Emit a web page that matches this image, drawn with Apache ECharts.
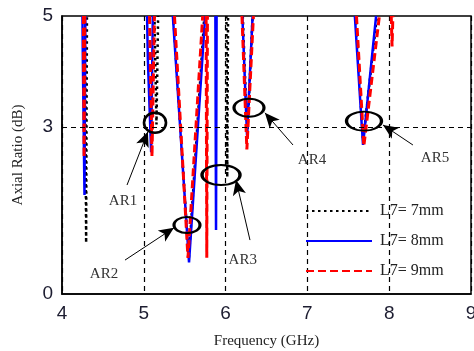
<!DOCTYPE html>
<html>
<head>
<meta charset="utf-8">
<script src="https://cdn.jsdelivr.net/npm/echarts@6/dist/echarts.min.js"></script>
<style>
html, body { margin: 0; padding: 0; background: #fff; }
#ar-chart { width: 474px; height: 351px; }
</style>
</head>
<body>
<div id="ar-chart"></div>
<script>
// each dip = [frequency (GHz), axial ratio (dB)] points
const dips7mm = [
    [[4.28, 5], [4.295, 0.92], [4.305, 5]],
    [[5.13, 5], [5.155, 3.05], [5.175, 5]],
    [[5.36, 5], [5.55, 0.62], [5.74, 5]],
    [[6.01, 5], [6.02, 2.1], [6.03, 5]],
    [[6.21, 5], [6.265, 2.85], [6.33, 5]],
    [[7.59, 5], [7.68, 2.75], [7.85, 5]]
]
const dips8mm = [
    [[4.25, 5], [4.255, 4.2], [4.275, 1.78], [4.285, 5]],
    [[5.04, 5], [5.05, 4.2], [5.09, 2.55], [5.11, 5]],
    [[5.355, 5], [5.553, 0.57], [5.75, 5]],
    [[5.875, 5], [5.883, 1.15], [5.89, 5]],
    [[6.205, 5], [6.262, 2.85], [6.33, 5]],
    [[7.58, 5], [7.68, 2.68], [7.84, 5]]
]
const dips9mm = [
    [[4.262, 5], [4.27, 2.45], [4.278, 5]],
    [[5.07, 5], [5.10, 2.47], [5.13, 5]],
    [[5.375, 5], [5.54, 0.65], [5.72, 5]],
    [[5.762, 5], [5.77, 0.65], [5.778, 5]],
    [[6.20, 5], [6.26, 2.6], [6.34, 5]],
    [[7.60, 5], [7.69, 2.66], [7.88, 5]],
    [[8.025, 5], [8.035, 4.45], [8.045, 5]]
]
const seriesNames = ['L7= 7mm', 'L7= 8mm', 'L7= 9mm']
const yTickValues = [0, 3, 5]
const yGridValue = 3

// annotation anchors in data units
const arNames = ['AR1', 'AR2', 'AR3', 'AR4', 'AR5']
const arEllipse = [[5.137, 3.08], [5.528, 1.24], [5.944, 2.14], [6.286, 3.35], [7.692, 3.11]]
const arArrowTip = [[5.05, 2.92], [5.369, 1.19], [6.127, 2.05], [6.48, 3.26], [7.924, 3.04]]
const arArrowTail = [[4.795, 1.96], [4.77, 0.61], [6.298, 0.97], [6.824, 2.68], [8.29, 2.68]]
const arLabel = [[4.746, 1.67], [4.513, 0.36], [6.21, 0.61], [7.056, 2.41], [8.56, 2.45]]

const ellipseSizes = [[22, 20], [26, 16], [38, 20], [30, 18], [35, 19]]
const ellipsePath = 'path://M0,10 A10,10 0 1,1 20,10 A10,10 0 1,1 0,10 Z'

function joinDips(dips) {
    let out = []
    dips.forEach((d, i) => {
        if (i) out.push(['-', '-'])
        out = out.concat(d)
    })
    return out
}

const serif = 'Liberation Serif'
const myChart = echarts.init(document.getElementById('ar-chart'))

myChart.setOption({
    animation: false,
    grid: {
        left: 62, right: 3, top: 16, bottom: 57,
        outerBoundsMode: 'none',
        show: true, borderColor: '#000', borderWidth: 1.5
    },
    legend: {
        data: seriesNames,
        orient: 'vertical',
        left: 300, top: 198,
        itemWidth: 66, itemHeight: 14, itemGap: 14,
        itemStyle: { opacity: 0 },
        textStyle: { fontFamily: serif, fontSize: 16, color: '#222', padding: [0, 0, 0, 3] }
    },
    xAxis: {
        type: 'value', min: 4, max: 9, interval: 1,
        name: 'Frequency (GHz)', nameLocation: 'middle', nameGap: 40,
        nameTextStyle: { fontFamily: serif, fontSize: 15, color: '#222' },
        axisLine: { lineStyle: { color: '#000', width: 1.5 } },
        axisTick: { show: false },
        axisLabel: { fontFamily: 'Liberation Sans', fontSize: 19, color: '#1c1c30', margin: 10 },
        splitLine: { show: true, lineStyle: { color: '#000', width: 1.2, type: [5, 4] } }
    },
    yAxis: {
        type: 'value', min: 0, max: 5, interval: 1,
        name: 'Axial Ratio (dB)', nameLocation: 'middle', nameGap: 36,
        nameTextStyle: { fontFamily: serif, fontSize: 15, color: '#222' },
        axisLine: { show: true, lineStyle: { color: '#000', width: 1.5 } },
        axisTick: { show: false },
        axisLabel: {
            fontFamily: 'Liberation Sans', fontSize: 19, color: '#1c1c30', margin: 9,
            formatter: v => yTickValues.includes(v) ? String(v) : ''
        },
        splitLine: { show: false }
    },
    series: [{
        name: seriesNames[0],
        type: 'line',
        symbol: 'none',
        data: joinDips(dips7mm),
        lineStyle: { color: '#000', width: 2.5, type: [2.5, 3.5] },
        itemStyle: { color: '#000' },
        markLine: {
            silent: true, symbol: 'none', animation: false,
            label: { show: false },
            lineStyle: { color: '#000', width: 1.2, type: [5, 4] },
            data: [{ yAxis: yGridValue }]
        }
    }, {
        name: seriesNames[1],
        type: 'line',
        symbol: 'none',
        data: joinDips(dips8mm),
        lineStyle: { color: '#0000ff', width: 2.5 },
        itemStyle: { color: '#0000ff' }
    }, {
        name: seriesNames[2],
        type: 'line',
        symbol: 'none',
        data: joinDips(dips9mm),
        lineStyle: { color: '#ff0000', width: 3, type: [8, 4] },
        itemStyle: { color: '#ff0000' }
    }, {
        name: 'annotations',
        type: 'line',
        data: [],
        markLine: {
            silent: true, animation: false,
            symbol: ['none', 'arrow'], symbolSize: [10, 15],
            label: { show: false },
            lineStyle: { color: '#000', width: 1, type: 'solid' },
            data: arNames.map((n, i) => [{ coord: arArrowTail[i] }, { coord: arArrowTip[i] }])
        },
        markPoint: {
            silent: true, animation: false,
            data: arNames.map((n, i) => ({
                coord: arEllipse[i],
                symbol: ellipsePath,
                symbolSize: ellipseSizes[i],
                itemStyle: { color: 'rgba(0,0,0,0)', borderColor: '#000', borderWidth: 2.5 },
                label: { show: false }
            })).concat(arNames.map((n, i) => ({
                coord: arLabel[i],
                symbol: 'circle',
                symbolSize: 1,
                itemStyle: { color: 'rgba(0,0,0,0)' },
                label: {
                    show: true, position: 'inside', formatter: n,
                    fontFamily: serif, fontSize: 15, color: '#333'
                }
            })))
        }
    }]
})
</script>
</body>
</html>
